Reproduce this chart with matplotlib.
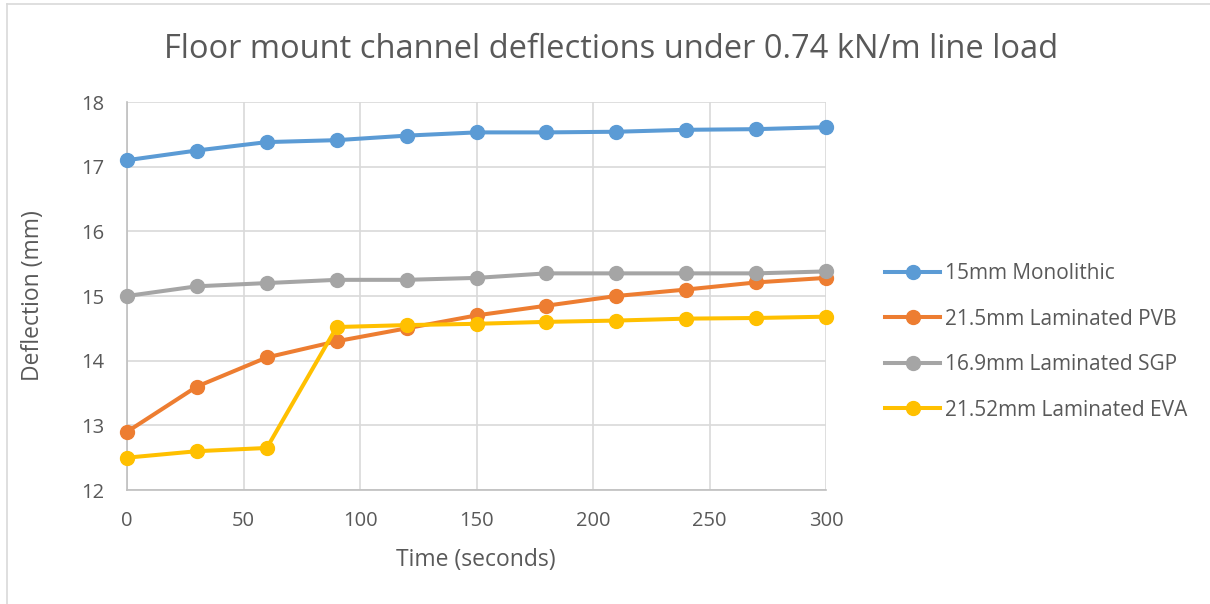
import matplotlib
matplotlib.use("Agg")
import matplotlib.pyplot as plt
from matplotlib.lines import Line2D

time_s = [0, 30, 60, 90, 120, 150, 180, 210, 240, 270, 300]
mono_15 = [17.10, 17.25, 17.38, 17.41, 17.48, 17.53, 17.53, 17.54, 17.57, 17.58, 17.61]
pvb_215 = [12.90, 13.60, 14.05, 14.30, 14.50, 14.70, 14.85, 15.00, 15.10, 15.21, 15.28]
sgp_169 = [15.00, 15.15, 15.20, 15.25, 15.25, 15.28, 15.35, 15.35, 15.35, 15.35, 15.38]
eva_2152 = [12.50, 12.60, 12.65, 14.52, 14.55, 14.57, 14.60, 14.62, 14.65, 14.66, 14.68]
series_names = ["15mm Monolithic", "21.5mm Laminated PVB", "16.9mm Laminated SGP", "21.52mm Laminated EVA"]
colors = ["#5B9BD5", "#ED7D31", "#A5A5A5", "#FFC000"]
x_ticks = [0, 50, 100, 150, 200, 250, 300]
y_ticks = [12, 13, 14, 15, 16, 17, 18]

plt.rcParams['font.family'] = ['Open Sans', 'DejaVu Sans']
text_color = "#595959"

W, H = 1210, 604
fig = plt.figure(figsize=(W / 100, H / 100), dpi=100)
ax = fig.add_axes([127 / W, 1 - 490 / H, (826 - 127) / W, (490 - 102) / H])

for ys, name, c in zip([mono_15, pvb_215, sgp_169, eva_2152], series_names, colors):
    ax.plot(time_s, ys, color=c, lw=2.9, marker='o', markersize=10, label=name,
            clip_on=False, zorder=3)

ax.set_xlim(0, 300)
ax.set_ylim(12, 18)
ax.set_xticks(x_ticks)
ax.set_yticks(y_ticks)
ax.grid(True, color="#D9D9D9", lw=1.2)
ax.set_axisbelow(True)
for s in ["top", "right"]:
    ax.spines[s].set_visible(False)
for s in ["left", "bottom"]:
    ax.spines[s].set_color("#BFBFBF")
    ax.spines[s].set_linewidth(1.2)
ax.tick_params(length=0, labelsize=14.5, colors=text_color, pad=15)
ax.tick_params(axis='y', pad=16)

fig.text(476 / W, 1 - 560 / H, "Time (seconds)", ha='center', va='center',
         fontsize=16.5, color=text_color)
fig.text(33 / W, 1 - 296 / H, "Deflection (mm)", ha='center', va='center',
         rotation=90, fontsize=16.5, color=text_color)
fig.text(611 / W, 1 - 50 / H, "Floor mount channel deflections under 0.74 kN/m line load",
         ha='center', va='center', fontsize=23.5, color=text_color)

leg = fig.legend(loc='upper left', bbox_to_anchor=(885 / W, 1 - 263 / H), frameon=False,
                 fontsize=15, handlelength=2.64, handletextpad=0.25, labelspacing=1.18,
                 borderaxespad=0, borderpad=0)
for t in leg.get_texts():
    t.set_color(text_color)

# chart border (left and top visible)
fig.add_artist(Line2D([7 / W, 7 / W], [0, 1 - 4 / H], transform=fig.transFigure,
                      color="#D9D9D9", lw=1.2))
fig.add_artist(Line2D([7 / W, 1], [1 - 4 / H, 1 - 4 / H], transform=fig.transFigure,
                      color="#D9D9D9", lw=1.2))

fig.savefig("out.png", dpi=100)
